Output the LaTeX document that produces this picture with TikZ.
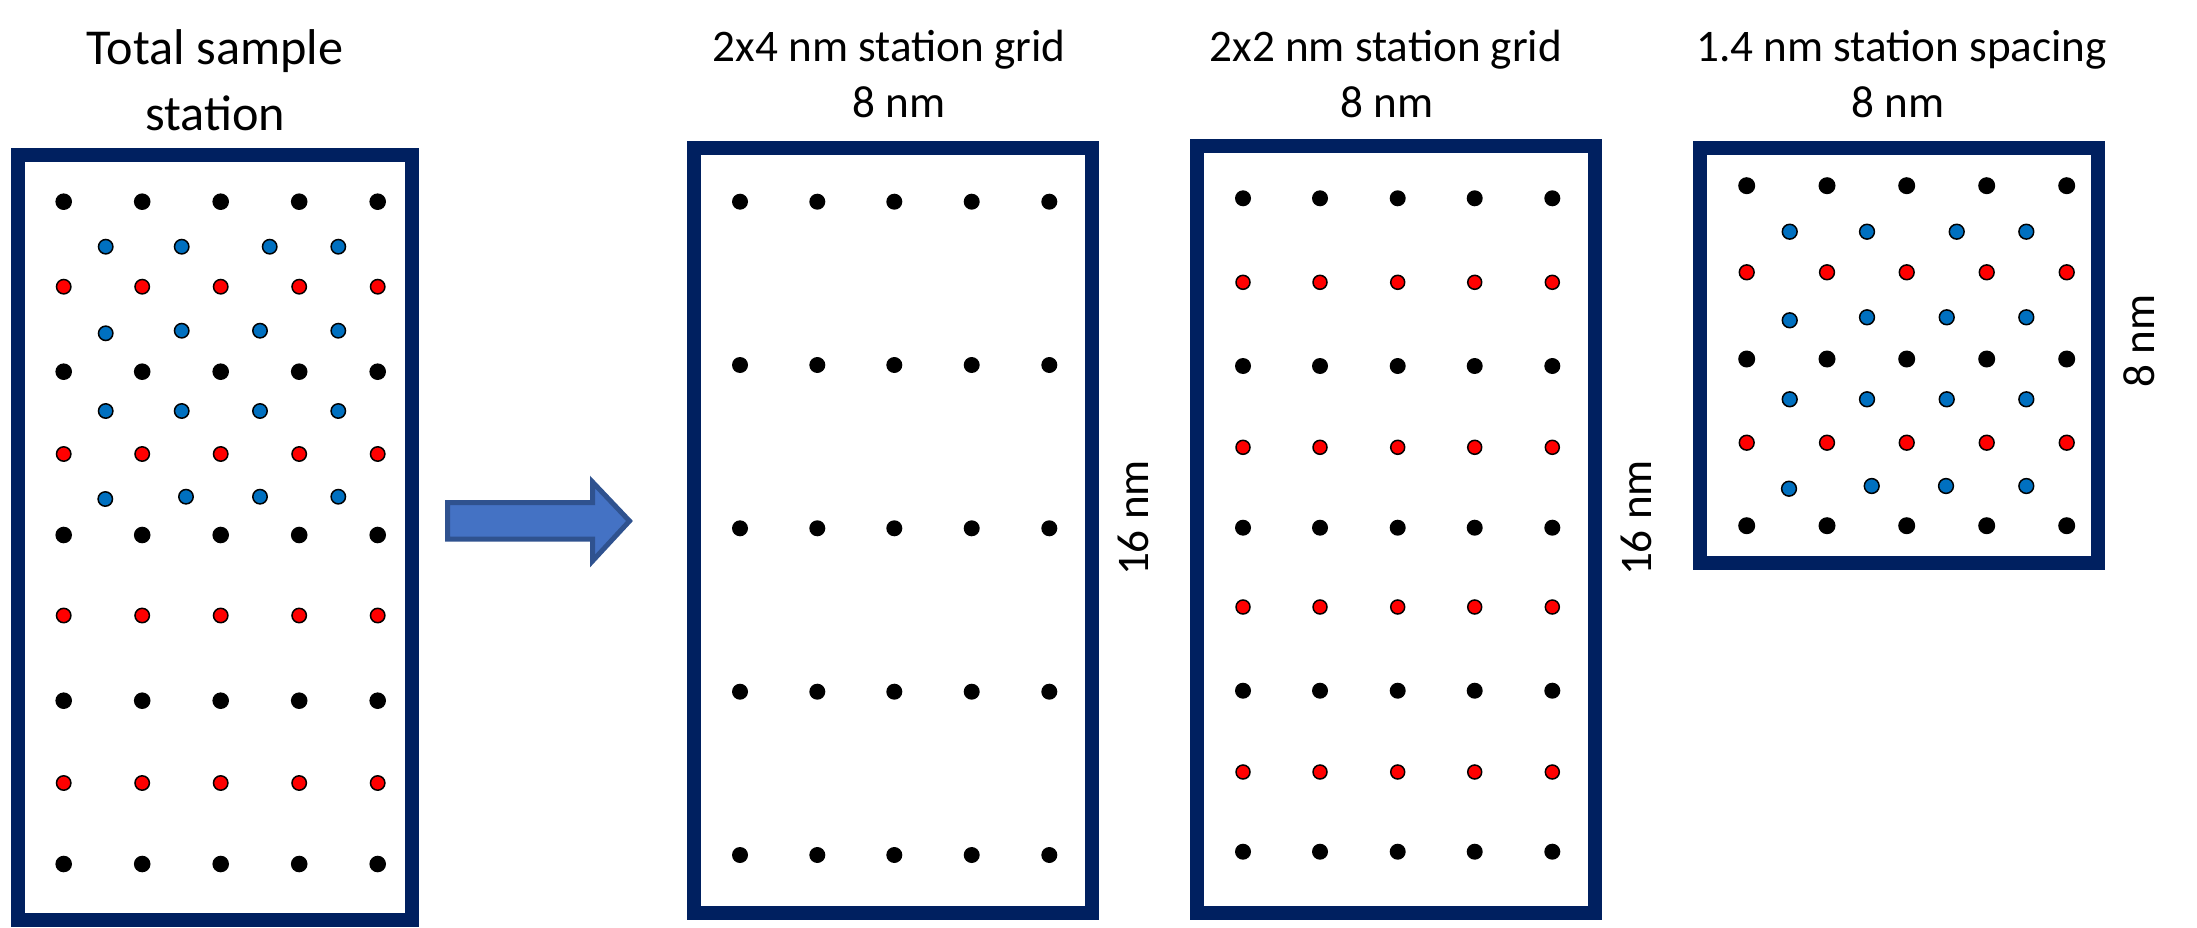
\documentclass[tikz,border=0pt]{standalone}
\usepackage{fontspec}
\setmainfont{Carlito}
\definecolor{boxnavy}{HTML}{002060}
\definecolor{dotblue}{HTML}{0070C0}
\definecolor{dotred}{HTML}{FF0000}
\definecolor{arrowfill}{HTML}{4472C4}
\definecolor{arrowedge}{HTML}{2F528F}
\tikzset{
	panelbox/.style={draw=boxnavy, line width=2.8mm},
	blk/.style={fill=black},
	rdot/.style={draw=black, fill=dotred, line width=0.3mm},
	bdot/.style={draw=black, fill=dotblue, line width=0.3mm},
	lbl/.style={anchor=base, inner sep=0pt, font=\fontsize{25.7}{30}\selectfont},
	biglbl/.style={anchor=base, inner sep=0pt, font=\fontsize{28.6}{33}\selectfont},
}

\begin{document}
\begin{tikzpicture}[scale=0.2]
		\useasboundingbox (0,0) rectangle (219.7,-92.8);
		% total sample station
		\draw [panelbox] (1.8,-15.5) rectangle (41.2,-92.0);
		\node [biglbl] (tot1) at (21.5,-6.5) {Total sample};
		\node [biglbl] (tot2) at (21.5,-13.07) {station};
		\foreach \y in {-20.17,-37.17,-53.5,-70.07,-86.4}
			\foreach \x in {6.37,14.22,22.07,29.92,37.77}
				\fill [blk] (\x,\y) circle (0.83);
		\foreach \y in {-28.67,-45.4,-61.55,-78.3}
			\foreach \x in {6.37,14.22,22.07,29.92,37.77}
				\draw [rdot] (\x,\y) circle (0.72);
		\foreach \x/\y in {10.57/-24.67,18.17/-24.67,26.97/-24.67,33.83/-24.67,
			10.57/-33.33,18.17/-33.07,26.0/-33.07,33.83/-33.07,
			10.57/-41.1,18.17/-41.1,26.0/-41.1,33.83/-41.1,
			10.53/-49.9,18.6/-49.67,26.0/-49.67,33.83/-49.67}
			\draw [bdot] (\x,\y) circle (0.72);
		% arrow
		\draw [arrowedge, fill=arrowfill, line width=1mm] (44.75,-50.25) -- (59.25,-50.25) -- (59.25,-48.2) -- (62.95,-52.1) -- (59.25,-56.1) -- (59.25,-53.92) -- (44.75,-53.92) -- cycle;
		% 2x4 grid
		\draw [panelbox] (69.42,-14.8) rectangle (109.18,-91.33);
		\node [lbl] (g24t) at (88.9,-6.17) {2x4 nm station grid};
		\node [lbl] (g24w) at (89.9,-11.75) {8 nm};
		\node [lbl, rotate=90] (g24h) at (114.8,-51.8) {16 nm};
		\foreach \y in {-20.17,-36.5,-52.83,-69.17,-85.5}
			\foreach \x in {74.0,81.73,89.43,97.17,104.93}
				\fill [blk] (\x,\y) circle (0.8);
		% 2x2 grid
		\draw [panelbox] (119.7,-14.6) rectangle (159.5,-91.27);
		\node [lbl] (g22t) at (138.58,-6.17) {2x2 nm station grid};
		\node [lbl] (g22w) at (138.67,-11.75) {8 nm};
		\node [lbl, rotate=90] (g22h) at (165.1,-51.8) {16 nm};
		\foreach \y in {-19.83,-36.6,-52.77,-69.07,-85.17}
			\foreach \x in {124.3,132.0,139.77,147.47,155.23}
				\fill [blk] (\x,\y) circle (0.8);
		\foreach \y in {-28.23,-44.73,-60.7,-77.2}
			\foreach \x in {124.3,132.0,139.77,147.47,155.23}
				\draw [rdot] (\x,\y) circle (0.7);
		% 1.4 nm spacing
		\draw [panelbox] (169.97,-14.8) rectangle (209.8,-56.3);
		\node [lbl] (sp14t) at (190.17,-6.2) {1.4 nm station spacing};
		\node [lbl] (sp14w) at (189.83,-11.75) {8 nm};
		\node [lbl, rotate=90] (sp14h) at (215.4,-34.1) {8 nm};
		\foreach \y in {-18.57,-35.9,-52.57}
			\foreach \x in {174.67,182.7,190.67,198.67,206.67}
				\fill [blk] (\x,\y) circle (0.85);
		\foreach \y in {-27.23,-44.27}
			\foreach \x in {174.67,182.7,190.67,198.67,206.67}
				\draw [rdot] (\x,\y) circle (0.74);
		\foreach \x/\y in {178.97/-23.17,186.7/-23.17,195.67/-23.17,202.63/-23.17,
			178.97/-32.03,186.7/-31.73,194.67/-31.73,202.63/-31.73,
			178.97/-39.93,186.7/-39.93,194.67/-39.93,202.63/-39.93,
			178.9/-48.87,187.17/-48.6,194.6/-48.6,202.63/-48.6}
			\draw [bdot] (\x,\y) circle (0.74);
	\end{tikzpicture}
\end{document}
